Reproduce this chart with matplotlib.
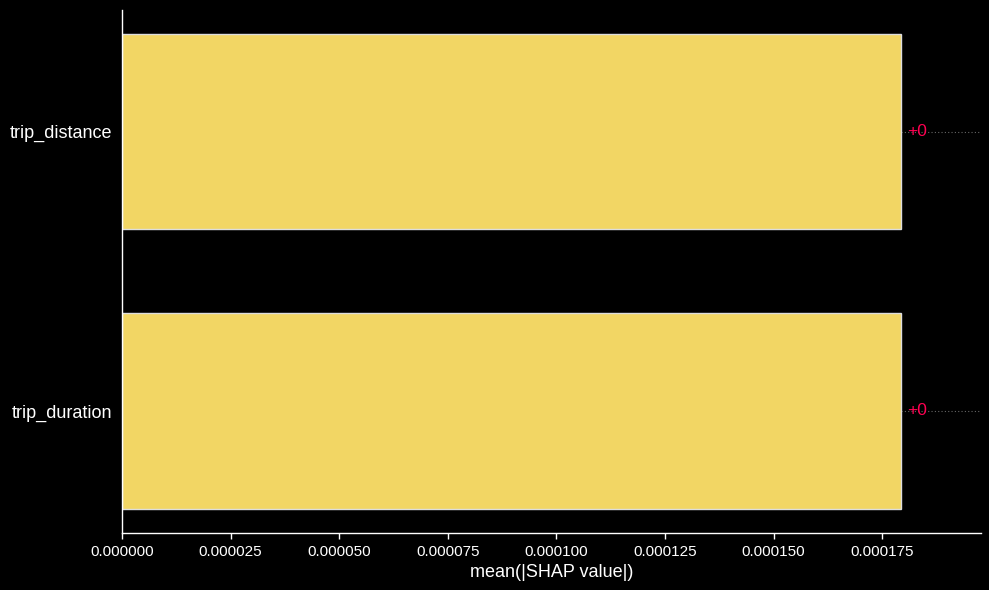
import matplotlib
matplotlib.use("Agg")
import matplotlib.pyplot as plt

features = ["trip_duration", "trip_distance"]
values = [0.0001793, 0.0001793]
value_labels = ["+0", "+0"]
xticks = [0.0, 0.000025, 0.00005, 0.000075, 0.0001, 0.000125, 0.00015, 0.000175]
xtick_labels = ["0.000000", "0.000025", "0.000050", "0.000075", "0.000100",
                "0.000125", "0.000150", "0.000175"]
xlabel = "mean(|SHAP value|)"

plt.rcParams['font.family'] = ['Liberation Sans', 'DejaVu Sans']

fig = plt.figure(figsize=(9.89, 5.9), dpi=100, facecolor='black')
ax = fig.add_axes([122/989, 57/590, (980.7-122)/989, (533-10)/590])
ax.set_facecolor('black')

ypos = list(range(len(features)))
ax.barh(ypos, values, height=0.7, color='#F2D664', edgecolor='#dddddd', linewidth=1.0, zorder=2)

xmax = 0.0001977
for y, v, lab in zip(ypos, values, value_labels):
    ax.plot([v, xmax], [y, y], linestyle=(0, (1, 2)), color='#666666', linewidth=0.8, zorder=1)
    ax.text(v + 0.0000015, y, lab, color='#ff0051', fontsize=12.5, va='center', ha='left', zorder=3)

ax.set_xlim(0, xmax)
ax.set_ylim(-0.437, 1.435)
ax.set_yticks(ypos)
ax.set_yticklabels(features, fontsize=13, color='white')
ax.tick_params(axis='y', length=0, pad=7)
ax.set_xticks(xticks)
ax.set_xticklabels(xtick_labels, fontsize=11, color='white')
ax.tick_params(axis='x', colors='white', length=4, width=1, pad=5)
ax.set_xlabel(xlabel, fontsize=13, color='white', labelpad=3)

for s in ['top', 'right']:
    ax.spines[s].set_visible(False)
for s in ['left', 'bottom']:
    ax.spines[s].set_color('white')
    ax.spines[s].set_linewidth(1)

fig.savefig('out.png', dpi=100, facecolor='black')
